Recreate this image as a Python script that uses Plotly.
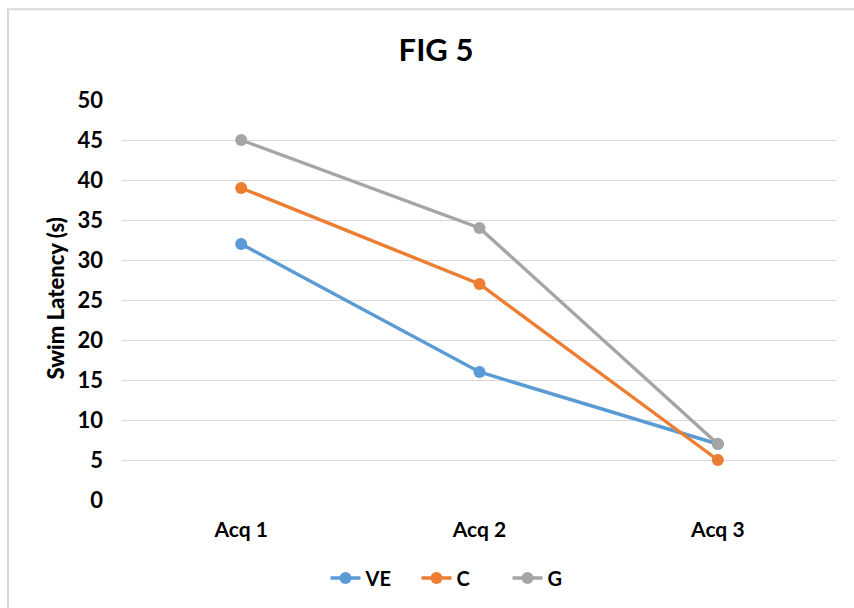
import plotly.graph_objects as go

# Acquisition trials and mean swim latency per group (seconds)
trials = ["Acq 1", "Acq 2", "Acq 3"]
ve_latency = [32, 16, 7]
c_latency = [39, 27, 5]
g_latency = [45, 34, 7]

series = [
    ("VE", ve_latency, "#5B9BD5"),
    ("C", c_latency, "#ED7D31"),
    ("G", g_latency, "#A5A5A5"),
]

FONT = "Lato, 'Open Sans', sans-serif"

fig = go.Figure()
for name, values, color in series:
    fig.add_trace(go.Scatter(
        x=trials, y=values, name=name, mode="lines+markers",
        line=dict(color=color, width=3.4),
        marker=dict(color=color, size=12),
    ))

W, H = 854, 608
L, R, T, B = 122, 17, 100, 107
pw, ph = W - L - R, H - T - B

def px_x(p):
    return (p - L) / pw

def px_y(p):
    return (H - B - p) / ph

fig.update_layout(
    width=W, height=H,
    margin=dict(l=L, r=R, t=T, b=B),
    paper_bgcolor="white", plot_bgcolor="white",
    font=dict(family=FONT, color="#000000"),
    title=dict(text="<b>FIG 5</b>", x=px_x(436), xref="paper", xanchor="center",
               y=1 - 50 / H, yanchor="middle",
               font=dict(size=31, family=FONT)),
    showlegend=True,
    legend=dict(orientation="h", x=px_x(462), xanchor="center",
                y=px_y(578), yanchor="middle",
                font=dict(size=20, family=FONT, weight="bold"),
                entrywidth=46, traceorder="normal"),
    xaxis=dict(type="category", range=[-0.5, 2.5], showgrid=False,
               zeroline=False, showline=False, ticks="",
               tickfont=dict(size=21, family=FONT, weight="bold"),
               ticklabelstandoff=15),
    yaxis=dict(range=[0, 50], dtick=5, showgrid=True, gridcolor="#D9D9D9",
               gridwidth=1, zeroline=False, showline=False, ticks="",
               tickfont=dict(size=22, family=FONT, weight="bold"),
               ticklabelstandoff=18),
    annotations=[dict(text="Swim Latency (s)", textangle=-90,
                      xref="paper", yref="paper", x=px_x(56), y=px_y(299),
                      xanchor="center", yanchor="middle", showarrow=False,
                      font=dict(size=22, family=FONT, weight=900))],
    shapes=[dict(type="rect", xref="paper", yref="paper",
                 x0=px_x(8), x1=px_x(W + 20), y0=px_y(H + 20), y1=px_y(9),
                 line=dict(color="#D9D9D9", width=2), fillcolor="rgba(0,0,0,0)",
                 layer="below")],
)

fig.write_html("out.html")
